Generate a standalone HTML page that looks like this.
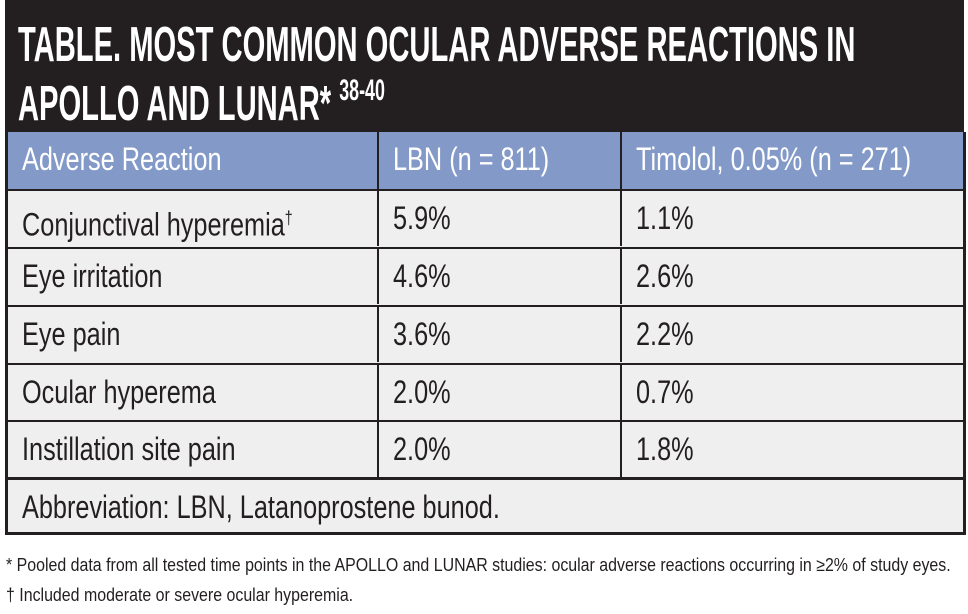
<!DOCTYPE html>
<html><head><style>
body{margin:0;width:968px;height:614px;background:#fff;position:relative;overflow:hidden;font-family:"Liberation Sans",sans-serif;}
.hd{position:absolute;left:5px;top:0;width:959px;height:133px;background:#231f20;}
.t{position:absolute;left:18px;color:#fff;font-weight:bold;font-size:49px;line-height:1;white-space:nowrap;transform:scaleX(0.595);transform-origin:0 0;}
.t sup{font-size:30px;vertical-align:top;position:relative;top:-4px;font-weight:bold;}
.tb{position:absolute;left:5px;top:132px;width:955px;height:400px;border:3px solid #231f20;border-top:none;background:#efefef;}
.row{position:absolute;left:0;width:955px;height:57px;border-top:2px solid #231f20;box-sizing:border-box;}
.c{position:absolute;top:0;height:100%;box-sizing:border-box;}
.c span{position:absolute;left:14px;top:0;display:block;font-size:32px;color:#231f20;line-height:55px;white-space:nowrap;transform:scaleX(0.79);transform-origin:0 0;}
.c1{left:0;width:369px;}
.c2{left:369px;width:243px;border-left:2px solid #231f20;}
.c3{left:612px;width:343px;border-left:2px solid #231f20;}
.hr{background:#8399c8;border-top:none;}
.hr .c span{color:#fff;}
.fn{position:absolute;left:6px;font-size:18px;color:#231f20;white-space:nowrap;transform:scaleX(0.885);transform-origin:0 0;}
</style></head><body>
<div class="hd"></div>
<div class="t" style="top:21px">TABLE. MOST COMMON OCULAR ADVERSE REACTIONS IN</div>
<div class="t" style="top:80px">APOLLO AND LUNAR* <sup>38-40</sup></div>
<div class="tb">
<div class="row hr" style="top:0"><div class="c c1"><span>Adverse Reaction</span></div><div class="c c2"><span>LBN (n = 811)</span></div><div class="c c3"><span>Timolol, 0.05% (n = 271)</span></div></div>
<div class="row" style="top:57px"><div class="c c1"><span>Conjunctival hyperemia<sup style="font-size:18px">†</sup></span></div><div class="c c2"><span>5.9%</span></div><div class="c c3"><span>1.1%</span></div></div>
<div class="row" style="top:115px"><div class="c c1"><span>Eye irritation</span></div><div class="c c2"><span>4.6%</span></div><div class="c c3"><span>2.6%</span></div></div>
<div class="row" style="top:173px"><div class="c c1"><span>Eye pain</span></div><div class="c c2"><span>3.6%</span></div><div class="c c3"><span>2.2%</span></div></div>
<div class="row" style="top:231px"><div class="c c1"><span>Ocular hyperema</span></div><div class="c c2"><span>2.0%</span></div><div class="c c3"><span>0.7%</span></div></div>
<div class="row" style="top:288px"><div class="c c1"><span>Instillation site pain</span></div><div class="c c2"><span>2.0%</span></div><div class="c c3"><span>1.8%</span></div></div>
<div class="row" style="top:345px;border-top:3px solid #231f20;height:55px"><div class="c c1" style="width:955px"><span>Abbreviation: LBN, Latanoprostene bunod.</span></div></div>
</div>
<div class="fn" style="top:555px">* Pooled data from all tested time points in the APOLLO and LUNAR studies: ocular adverse reactions occurring in ≥2% of study eyes.</div>
<div class="fn" style="top:585px">† Included moderate or severe ocular hyperemia.</div>
</body></html>
